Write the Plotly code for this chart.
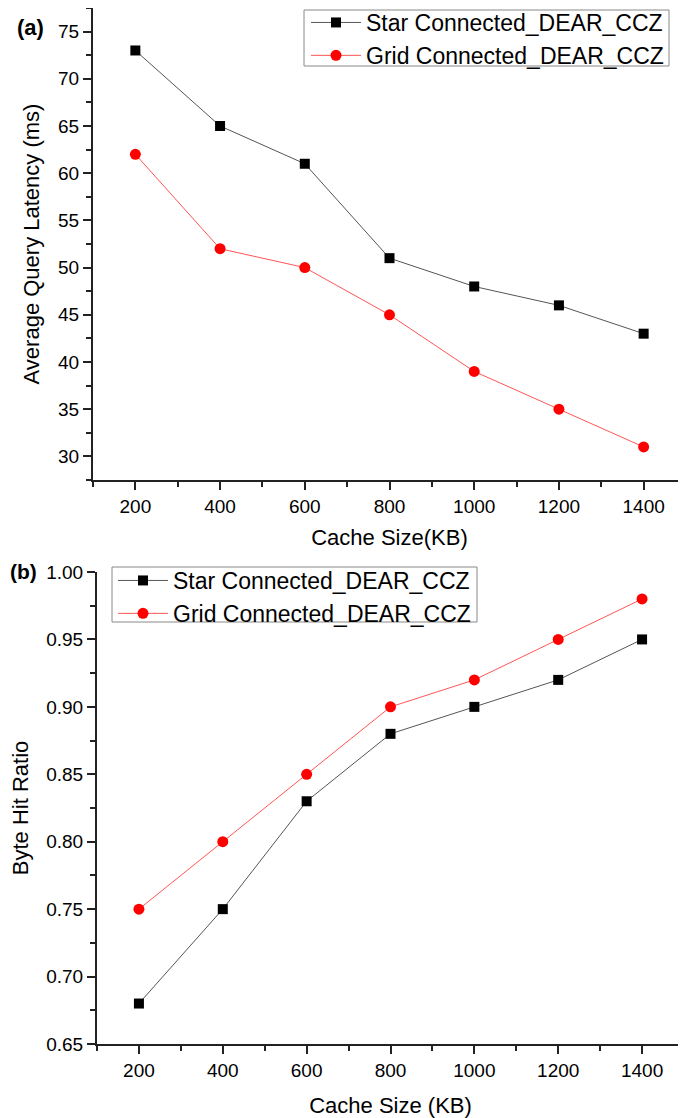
import plotly.graph_objects as go

cache_sizes = [200, 400, 600, 800, 1000, 1200, 1400]
latency_star = [73, 65, 61, 51, 48, 46, 43]
latency_grid = [62, 52, 50, 45, 39, 35, 31]
hit_star = [0.68, 0.75, 0.83, 0.88, 0.90, 0.92, 0.95]
hit_grid = [0.75, 0.80, 0.85, 0.90, 0.92, 0.95, 0.98]
series_names = ["Star Connected_DEAR_CCZ", "Grid Connected_DEAR_CCZ"]

# page body has an 8px margin; size the figure to fill the rest of the window
OFF = 8
W, H = 686 - OFF, 1118 - OFF
FONT = "Liberation Sans, Arial, sans-serif"


def px(x):
    return (x - OFF) / W


def py(y):
    return 1 - (y - OFF) / H


fig = go.Figure()


def add_pair(star, grid, xa, ya, legend):
    fig.add_trace(go.Scatter(
        x=cache_sizes, y=star, name=series_names[0], mode="lines+markers",
        line=dict(color="#555555", width=1),
        marker=dict(symbol="square", size=10, color="black"),
        xaxis=xa, yaxis=ya, legend=legend))
    fig.add_trace(go.Scatter(
        x=cache_sizes, y=grid, name=series_names[1], mode="lines+markers",
        line=dict(color="#ff5555", width=1),
        marker=dict(symbol="circle", size=11, color="#ff0000"),
        xaxis=xa, yaxis=ya, legend=legend))


add_pair(latency_star, latency_grid, "x", "y", "legend")
add_pair(hit_star, hit_grid, "x2", "y2", "legend2")

axis_common = dict(
    showline=True, linecolor="#222222", linewidth=2,
    ticks="outside", ticklen=8, tickwidth=1.5, tickcolor="#222222",
    showgrid=False, zeroline=False, automargin=False,
    tickfont=dict(family=FONT, size=19, color="black"),
)


def xaxis(domain, anchor, title, standoff):
    d = dict(axis_common)
    d.update(domain=domain, anchor=anchor, range=[100, 1500],
             tickvals=cache_sizes,
             minor=dict(ticks="outside", ticklen=5, tickwidth=1.5,
                        tickcolor="#222222", dtick=100, tick0=100, showgrid=False),
             title=dict(text=title, font=dict(family=FONT, size=22, color="black"),
                        standoff=standoff))
    return d


def yaxis(domain, anchor, rng, dtick, tick0, fmt, title, standoff):
    d = dict(axis_common)
    d.update(domain=domain, anchor=anchor, range=rng, dtick=dtick, tick0=tick0,
             tickformat=fmt,
             minor=dict(ticks="outside", ticklen=5, tickwidth=1.5,
                        tickcolor="#222222", dtick=dtick / 2, showgrid=False),
             title=dict(text=title, font=dict(family=FONT, size=22, color="black"),
                        standoff=standoff))
    return d


legend_style = dict(xanchor="left", yanchor="top",
                    bgcolor="rgba(0,0,0,0)", borderwidth=0,
                    font=dict(family=FONT, size=23, color="black"),
                    itemwidth=50, tracegroupgap=0)

fig.update_layout(
    width=W, height=H,
    margin=dict(l=0, r=0, t=0, b=0, autoexpand=False),
    paper_bgcolor="white", plot_bgcolor="white",
    font=dict(family=FONT, color="black"),
    xaxis=xaxis([px(93), 1.0], "y", "Cache Size(KB)", 14),
    yaxis=yaxis([py(480), py(8)], "x", [27.5, 77.5], 5, 30, "d",
                "Average Query Latency (ms)", 12),
    xaxis2=xaxis([px(97), px(684)], "y2", "Cache Size (KB)", 18),
    yaxis2=yaxis([py(1044), py(572)], "x2", [0.65, 1.0], 0.05, 0.65, ".2f",
                 "Byte Hit Ratio", 12),
    legend=dict(x=px(306), y=py(1), **legend_style),
    legend2=dict(x=px(113), y=py(559), **legend_style),
    showlegend=True,
)

# legend frames (white, grey border) drawn beneath the legend entries
for (x0, y0, x1, y1) in [(304, 10, 669, 66), (112, 567, 477, 622)]:
    fig.add_shape(type="rect", xref="paper", yref="paper",
                  x0=px(x0), x1=px(x1), y0=py(y1), y1=py(y0),
                  line=dict(color="#888888", width=1), fillcolor="white",
                  layer="above")

fig.add_annotation(text="<b>(a)</b>", x=px(30), y=py(27), xref="paper", yref="paper",
                   showarrow=False, font=dict(family=FONT, size=22, color="black"),
                   xanchor="center", yanchor="middle")
fig.add_annotation(text="<b>(b)</b>", x=px(9), y=py(571), xref="paper", yref="paper",
                   showarrow=False, font=dict(family=FONT, size=21, color="black"),
                   xanchor="left", yanchor="middle", xshift=-1)

fig.write_html("out.html")
